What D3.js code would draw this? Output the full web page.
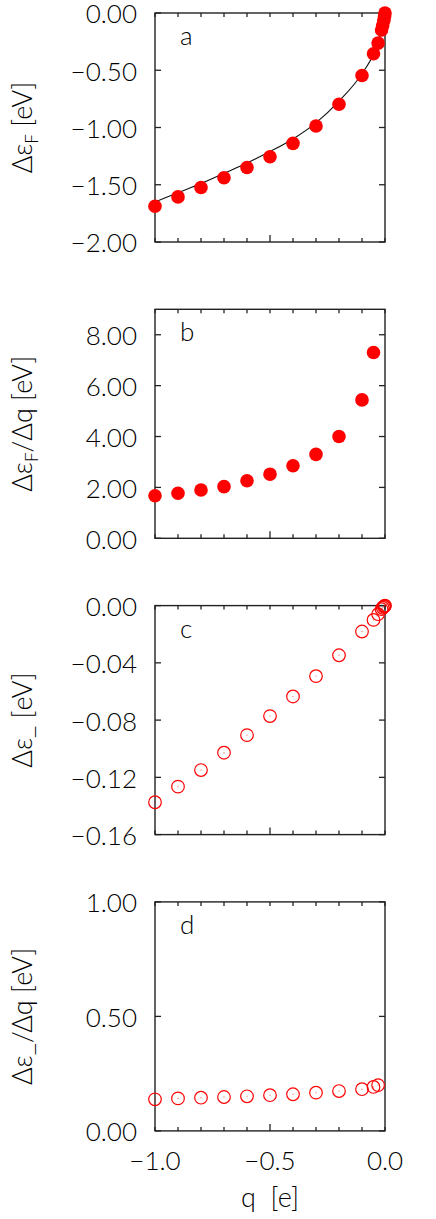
<!DOCTYPE html>
<html>
<head>
<meta charset="utf-8">
<script src="https://cdn.jsdelivr.net/npm/d3@7"></script>
<style>
  body { margin: 0; background: #fff; }
  svg { display: block; font-family: Lato, "Noto Sans", sans-serif; font-weight: 300; }
</style>
</head>
<body>
<svg id="chart"></svg>
<script>
const width = 436;
const height = 1219;

// charge q [e]
const qAll = [-1.0, -0.9, -0.8, -0.7, -0.6, -0.5, -0.4, -0.3, -0.2, -0.1, -0.05, -0.03, -0.015, -0.01, -0.005, -0.002, 0];
const qB = qAll.slice(0, 11);
const qD = qAll.slice(0, 12);

// panel a: shift of Fermi level
const dEF = [-1.688, -1.606, -1.524, -1.439, -1.349, -1.255, -1.139, -0.987, -0.797, -0.546, -0.356, -0.263, -0.148, -0.11, -0.065, -0.03, 0];
// fitted curve in panel a
const fitQ = [-1.0, -0.9, -0.8, -0.7, -0.6, -0.5, -0.4, -0.3, -0.2, -0.1, -0.05, -0.03, -0.01, 0];
const fitA = [-1.65, -1.57, -1.49, -1.40, -1.31, -1.21, -1.10, -0.96, -0.77, -0.53, -0.36, -0.26, -0.10, 0];
// panel b
const dEFdq = [1.67, 1.77, 1.90, 2.03, 2.26, 2.52, 2.85, 3.30, 4.00, 5.44, 7.30];
// panel c
const dEm = [-0.1374, -0.1265, -0.1149, -0.1028, -0.0905, -0.0772, -0.0635, -0.0493, -0.0347, -0.0181, -0.0100, -0.0060, -0.0025, -0.0015, -0.0008, -0.0003, 0];
// panel d
const dEmdq = [0.138, 0.142, 0.145, 0.148, 0.151, 0.156, 0.160, 0.167, 0.174, 0.182, 0.192, 0.200];

const xTicks = [-1.0, -0.5, 0.0];
const xMinor = d3.range(-10, 1).map(i => i / 10);

const panels = [
  { tag: "a", label: ["Δε", "F", " [eV]"], dom: [-2, 0], ticks: [-2, -1.5, -1, -0.5, 0], fmt: ".2f",
    x: qAll, y: dEF, filled: true, fit: true },
  { tag: "b", label: ["Δε", "F", "/Δq [eV]"], dom: [0, 9], ticks: [0, 2, 4, 6, 8], fmt: ".2f",
    x: qB, y: dEFdq, filled: true },
  { tag: "c", label: ["Δε_  [eV]"], dom: [-0.16, 0], ticks: [-0.16, -0.12, -0.08, -0.04, 0], fmt: ".2f",
    x: qAll, y: dEm, filled: false },
  { tag: "d", label: ["Δε_/Δq [eV]"], dom: [0, 1], ticks: [0, 0.5, 1], fmt: ".2f",
    x: qD, y: dEmdq, filled: false, xaxis: true }
];

const svg = d3.select("#chart").attr("width", width).attr("height", height);

const left = 155, right = 385, top0 = 13, step = 296.3, ph = 229;
const x = d3.scaleLinear().domain([-1, 0]).range([left, right]);
const red = "#ff0000", frame = "#222", ink = "#000";

panels.forEach((p, i) => {
  const top = top0 + i * step;
  const y = d3.scaleLinear().domain(p.dom).range([top + ph, top]);
  const g = svg.append("g");

  // inward ticks
  const tk = g.append("g").attr("stroke", frame).attr("stroke-width", 1.3);
  xMinor.forEach(v => {
    const len = Math.abs(v + 0.5) < 1e-9 ? 7 : 4;
    tk.append("line").attr("x1", x(v)).attr("x2", x(v)).attr("y1", top + ph).attr("y2", top + ph - len);
    tk.append("line").attr("x1", x(v)).attr("x2", x(v)).attr("y1", top).attr("y2", top + 4);
  });
  p.ticks.forEach(v => {
    tk.append("line").attr("x1", left).attr("x2", left + 6).attr("y1", y(v)).attr("y2", y(v));
    tk.append("line").attr("x1", right).attr("x2", right - 6).attr("y1", y(v)).attr("y2", y(v));
  });

  // y tick labels
  g.append("g").selectAll("text").data(p.ticks).join("text")
    .attr("x", 137).attr("y", d => y(d)).attr("dy", "0.4em")
    .attr("text-anchor", "end").attr("font-size", 26).attr("fill", ink)
    .text(d => d3.format(p.fmt)(d));

  // y label
  const lab = g.append("text")
    .attr("transform", `translate(32,${top + ph / 2}) rotate(-90)`)
    .attr("text-anchor", "middle").attr("font-size", 27).attr("fill", ink);
  if (p.label.length === 3) {
    lab.append("tspan").text(p.label[0]);
    lab.append("tspan").attr("font-size", 17).attr("dy", 6).text(p.label[1]);
    lab.append("tspan").attr("dy", -6).text(p.label[2]);
  } else {
    lab.text(p.label[0]);
  }

  // panel tag
  g.append("text").attr("x", 180).attr("y", top + 32).attr("font-size", 26).attr("fill", ink).text(p.tag);

  // fit line
  if (p.fit) {
    const pts = fitQ.map((q, j) => [q, fitA[j]]);
    g.append("path").datum(pts)
      .attr("fill", "none").attr("stroke", "#111").attr("stroke-width", 1.1)
      .attr("d", d3.line().x(d => x(d[0])).y(d => y(d[1])).curve(d3.curveMonotoneX));
  }

  // points
  const data = p.x.map((q, j) => ({ q, v: p.y[j] }));
  const pg = g.append("g");
  if (p.filled) {
    pg.selectAll("circle").data(data).join("circle")
      .attr("cx", d => x(d.q)).attr("cy", d => y(d.v)).attr("r", 6.8).attr("fill", red);
  } else {
    pg.selectAll("circle.o").data(data).join("circle").attr("class", "o")
      .attr("cx", d => x(d.q)).attr("cy", d => y(d.v)).attr("r", 6.3)
      .attr("fill", "none").attr("stroke", red).attr("stroke-width", 1.2);
    pg.selectAll("circle.dot").data(data).join("circle").attr("class", "dot")
      .attr("cx", d => x(d.q)).attr("cy", d => y(d.v)).attr("r", 0.7)
      .attr("fill", red).attr("opacity", 0.5);
  }

  // frame
  g.append("rect").attr("x", left).attr("y", top).attr("width", right - left).attr("height", ph)
    .attr("fill", "none").attr("stroke", frame).attr("stroke-width", 1.4);
  pg.raise();

  if (p.xaxis) {
    g.append("g").selectAll("text").data(xTicks).join("text")
      .attr("x", d => x(d)).attr("y", 1170)
      .attr("text-anchor", "middle").attr("font-size", 26).attr("fill", ink)
      .text(d => d3.format(".1f")(d));
    g.append("text").attr("x", 270).attr("y", 1207)
      .attr("text-anchor", "middle").attr("font-size", 27).attr("fill", ink)
      .attr("xml:space", "preserve")
      .text("q  [e]");
  }
});
</script>
</body>
</html>
